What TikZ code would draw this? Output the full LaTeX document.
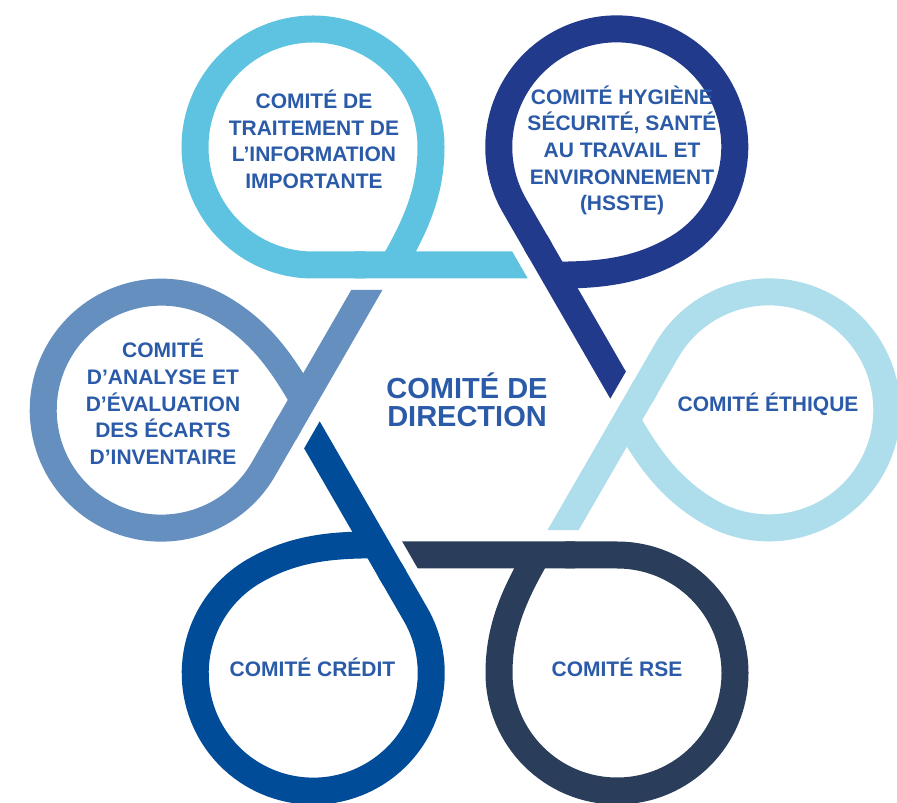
\documentclass[tikz,border=0pt]{standalone}
\usepackage{fontspec}
\setmainfont{Liberation Sans}
\definecolor{cA}{HTML}{5EC3E0}
\definecolor{cB}{HTML}{223A8C}
\definecolor{cC}{HTML}{AEDDEB}
\definecolor{cD}{HTML}{2A3D5A}
\definecolor{cE}{HTML}{004C98}
\definecolor{cF}{HTML}{658FBE}
\definecolor{txtblue}{HTML}{2B5BA8}
\newcommand\drawloop[2]{%
  \begin{scope}[shift={(465,393)}, rotate=#2]
    \fill[#1] (-110,131.5) -- (62.8,131.5) -- (47.2,158.5) -- (-110,158.5) -- cycle;
    \draw[#1, line width=27pt, line join=round] (-100,145) -- (-152,145)
      arc[start angle=270, end angle=0, radius=118pt]
      .. controls (-34,218) and (-49.5,184) .. (-72,145);
  \end{scope}}
\begin{document}
\begin{tikzpicture}[x=1pt,y=1pt,
  lbl/.style={font=\bfseries\fontsize{21}{26.6}\selectfont, text=txtblue, align=center, inner sep=0pt},
  ctr/.style={font=\bfseries\fontsize{29}{28}\selectfont, text=txtblue, align=center, inner sep=0pt}]
\useasboundingbox[fill=white] (0,0) rectangle (897,803);
\drawloop{cA}{0}
\drawloop{cB}{-60}
\drawloop{cC}{-120}
\drawloop{cD}{-180}
\drawloop{cE}{-240}
\drawloop{cF}{-300}
\node[lbl] (info) at (314,663.7) {COMITÉ DE\\TRAITEMENT DE\\L’INFORMATION\\IMPORTANTE};
\node[lbl] (hsste) at (622,652.7) {COMITÉ HYGIÈNE\\SÉCURITÉ, SANTÉ\\AU TRAVAIL ET\\ENVIRONNEMENT\\(HSSTE)};
\node[lbl, anchor=base] (ethique) at (768,391.5) {COMITÉ ÉTHIQUE};
\node[lbl, anchor=base] (rse) at (617,126.5) {COMITÉ RSE};
\node[lbl, anchor=base] (credit) at (312.5,126.5) {COMITÉ CRÉDIT};
\node[lbl] (analyse) at (163,401.3) {COMITÉ\\D’ANALYSE ET\\D’ÉVALUATION\\DES ÉCARTS\\D’INVENTAIRE};
\node[ctr] (direction) at (467,403.5) {COMITÉ DE\\DIRECTION};
\end{tikzpicture}
\end{document}
